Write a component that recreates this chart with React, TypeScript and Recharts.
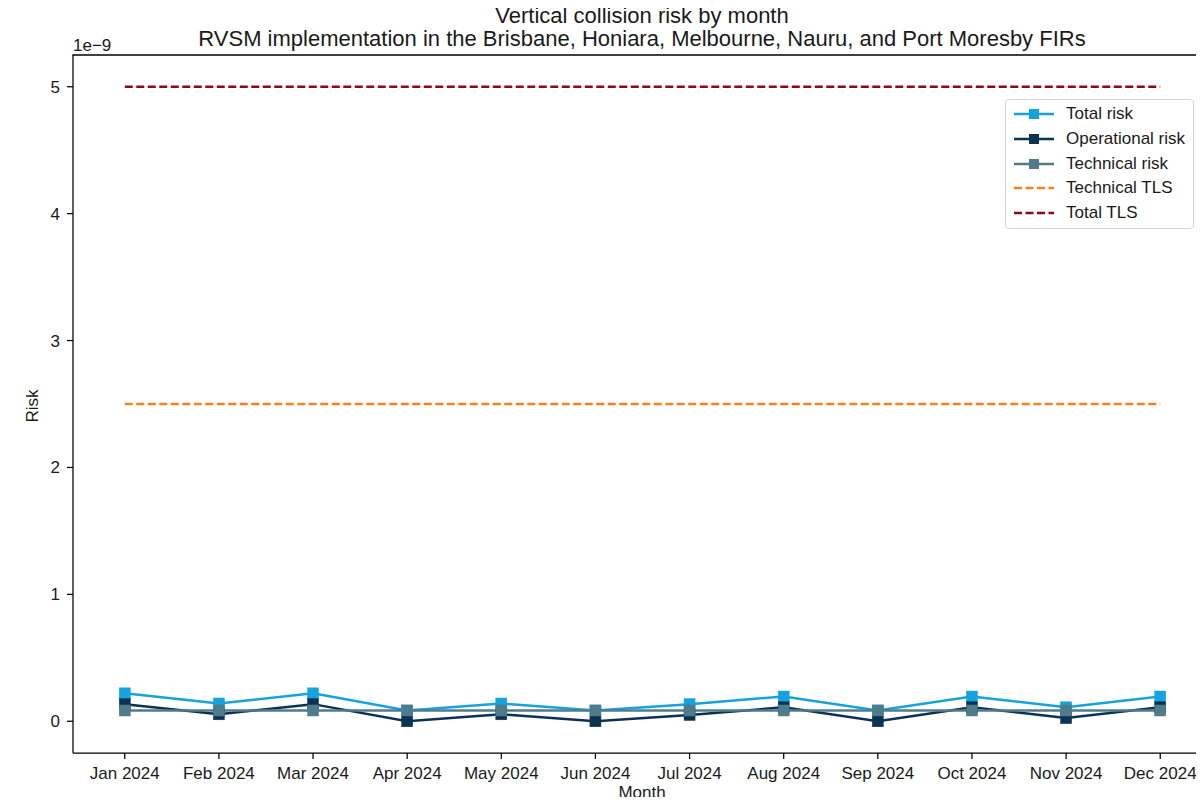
import React from 'react';
import { LineChart, Line, XAxis, YAxis } from 'recharts';

// Values are in units of 1e-9 (axis offset text "1e-9")
const months = ['Jan 2024', 'Feb 2024', 'Mar 2024', 'Apr 2024', 'May 2024', 'Jun 2024', 'Jul 2024', 'Aug 2024', 'Sep 2024', 'Oct 2024', 'Nov 2024', 'Dec 2024'];
const totalRisk = [0.22, 0.14, 0.22, 0.085, 0.14, 0.085, 0.135, 0.195, 0.085, 0.195, 0.11, 0.195];
const operationalRisk = [0.135, 0.055, 0.135, 0.0, 0.055, 0.0, 0.05, 0.11, 0.0, 0.11, 0.025, 0.11];
const technicalRisk = [0.085, 0.085, 0.085, 0.085, 0.085, 0.085, 0.085, 0.085, 0.085, 0.085, 0.085, 0.085];
const technicalTLS = [2.5, 2.5, 2.5, 2.5, 2.5, 2.5, 2.5, 2.5, 2.5, 2.5, 2.5, 2.5];
const totalTLS = [5, 5, 5, 5, 5, 5, 5, 5, 5, 5, 5, 5];
const yTicks = [0, 1, 2, 3, 4, 5];
const xTicks = [0, 1, 2, 3, 4, 5, 6, 7, 8, 9, 10, 11];
const yDomain = [-0.25, 5.25];

const titleLine1 = 'Vertical collision risk by month';
const titleLine2 = 'RVSM implementation in the Brisbane, Honiara, Melbourne, Nauru, and Port Moresby FIRs';

const data = months.map((m, i) => ({
  idx: i,
  month: m,
  total: totalRisk[i],
  operational: operationalRisk[i],
  technical: technicalRisk[i],
  techTLS: technicalTLS[i],
  totalTLS: totalTLS[i],
}));

const FONT = '"Liberation Sans", Arial, Helvetica, sans-serif';
const C_TOTAL = '#15a2de';
const C_OPER = '#0b3253';
const C_TECH = '#4f7b8b';
const C_TTLS = '#f7801f';
const C_TOTTLS = '#8b0a14';
const TXT = '#1a1a1a';

const legendItems = [
  { name: 'Total risk', color: C_TOTAL, dashed: false },
  { name: 'Operational risk', color: C_OPER, dashed: false },
  { name: 'Technical risk', color: C_TECH, dashed: false },
  { name: 'Technical TLS', color: C_TTLS, dashed: true },
  { name: 'Total TLS', color: C_TOTTLS, dashed: true },
];

const square = (color: string) => (props: any) => {
  const { cx, cy, index } = props;
  if (cx == null || cy == null) return <g key={`n-${index}`} />;
  return <rect key={`sq-${color}-${index}`} x={cx - 5.5} y={cy - 5.5} width={11} height={11} fill={color} stroke={color} strokeWidth={0.5} />;
};

const LegendBox = () => (
  <div
    style={{
      position: 'absolute',
      left: 1005,
      top: 99,
      width: 189,
      boxSizing: 'border-box',
      border: '1px solid #d4d4d4',
      borderRadius: 4,
      background: 'rgba(255,255,255,0.85)',
      padding: '2px 0 3px 0',
      fontFamily: FONT,
      fontSize: 17,
      color: TXT,
    }}
  >
    {legendItems.map((it) => (
      <div key={it.name} style={{ display: 'flex', alignItems: 'center', height: 24.7 }}>
        <svg width={60} height={20} style={{ flex: 'none' }}>
          <line
            x1={8}
            x2={48}
            y1={10}
            y2={10}
            stroke={it.color}
            strokeWidth={2.5}
            strokeDasharray={it.dashed ? '8 3.5' : undefined}
          />
          {!it.dashed && <rect x={23} y={5} width={10} height={10} fill={it.color} />}
        </svg>
        <span style={{ whiteSpace: 'nowrap' }}>{it.name}</span>
      </div>
    ))}
  </div>
);

export default function App() {
  return (
    <div style={{ position: 'relative', width: 1204, height: 805, margin: -8, overflow: 'hidden', background: '#fff', fontFamily: FONT }}>
      <div style={{ position: 'absolute', left: 0, top: 0 }}>
        <LineChart width={1220} height={805} data={data} margin={{ top: 55, right: 8, bottom: 0, left: 0 }}>
          <XAxis
            dataKey="idx"
            type="number"
            domain={[-0.55, 11.55]}
            ticks={xTicks}
            interval={0}
            tickFormatter={(v: number) => months[v]}
            height={52}
            tickSize={6}
            tickMargin={8}
            stroke="#000"
            strokeWidth={1.25}
            tick={{ fill: TXT, fontSize: 17, fontFamily: FONT }}
            tickLine={{ stroke: '#000', strokeWidth: 1.25 }}
          />
          <YAxis
            type="number"
            domain={yDomain}
            ticks={yTicks}
            interval={0}
            width={73}
            tickSize={6}
            tickMargin={7}
            stroke="#000"
            strokeWidth={1.25}
            allowDataOverflow
            tick={{ fill: TXT, fontSize: 17, fontFamily: FONT }}
            tickLine={{ stroke: '#000', strokeWidth: 1.25 }}
          />
          <Line type="linear" dataKey="total" name="Total risk" stroke={C_TOTAL} strokeWidth={2.5} dot={square(C_TOTAL)} activeDot={false} isAnimationActive={false} />
          <Line type="linear" dataKey="operational" name="Operational risk" stroke={C_OPER} strokeWidth={2.5} dot={square(C_OPER)} activeDot={false} isAnimationActive={false} />
          <Line type="linear" dataKey="technical" name="Technical risk" stroke={C_TECH} strokeWidth={2.5} dot={square(C_TECH)} activeDot={false} isAnimationActive={false} />
          <Line type="linear" dataKey="techTLS" name="Technical TLS" stroke={C_TTLS} strokeWidth={2.5} strokeDasharray="8 3.5" dot={false} activeDot={false} isAnimationActive={false} />
          <Line type="linear" dataKey="totalTLS" name="Total TLS" stroke={C_TOTTLS} strokeWidth={2.5} strokeDasharray="8 3.5" dot={false} activeDot={false} isAnimationActive={false} />
        </LineChart>
      </div>
      <div style={{ position: 'absolute', left: 0, width: 1284, top: 4, textAlign: 'center', fontSize: 22, lineHeight: '23px', color: TXT, whiteSpace: 'nowrap' }}>
        <div>{titleLine1}</div>
        <div>{titleLine2}</div>
      </div>
      <div style={{ position: 'absolute', left: 73, top: 36, fontSize: 17, color: TXT }}>1e−9</div>
      <div style={{ position: 'absolute', left: 33, top: 406, transform: 'translate(-50%, -50%) rotate(-90deg)', fontSize: 17, color: TXT }}>Risk</div>
      <div style={{ position: 'absolute', left: 642, top: 783, transform: 'translateX(-50%)', fontSize: 17, lineHeight: '20px', color: TXT }}>Month</div>
      <LegendBox />
      {/* top spine of the axes frame */}
      <svg width={1204} height={805} style={{ position: 'absolute', left: 0, top: 0, pointerEvents: 'none' }}>
        <line x1={72.4} x2={1204} y1={55} y2={55} stroke="#000" strokeWidth={1.4} />
      </svg>
    </div>
  );
}
